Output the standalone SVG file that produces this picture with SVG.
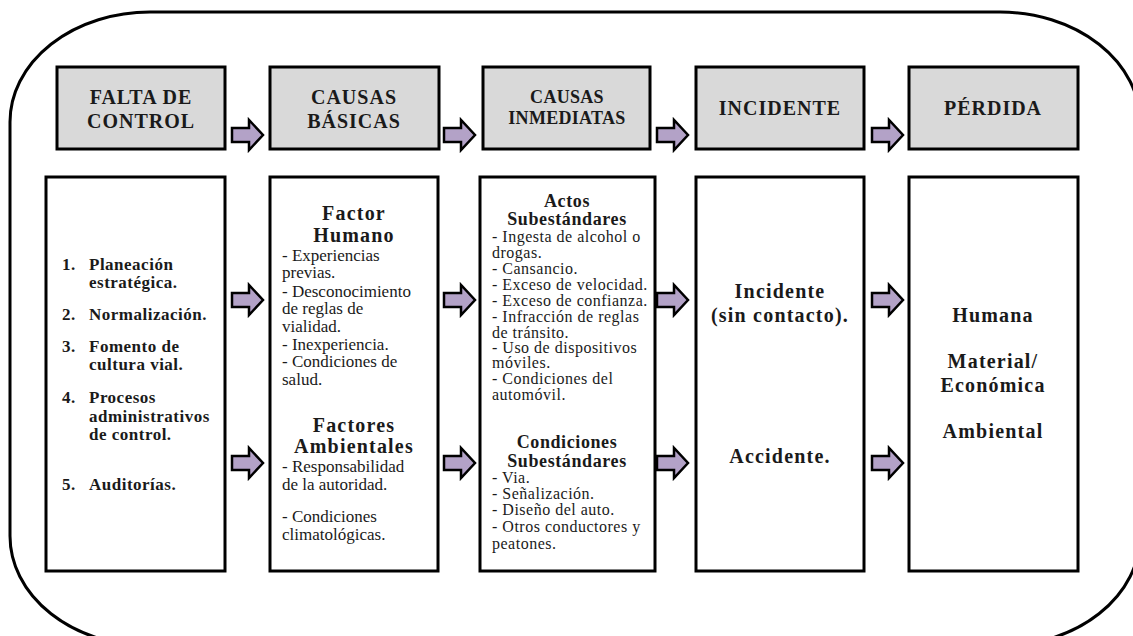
<svg xmlns="http://www.w3.org/2000/svg" xmlns:xlink="http://www.w3.org/1999/xlink" width="1133" height="636" viewBox="0 0 1133 636">
<style>
text{font-family:"Liberation Serif","Times New Roman","DejaVu Serif",serif;fill:#1a1a1a}
.hdr{fill:#d9d9d9;stroke:#000;stroke-width:3}
.box{fill:#fff;stroke:#000;stroke-width:3}
.ht{font-weight:bold;font-size:20px;letter-spacing:1px;text-anchor:middle}
.hs{font-weight:bold;font-size:18px;letter-spacing:0.3px;text-anchor:middle}
.li{font-weight:bold;font-size:17px;letter-spacing:0.5px}
.sub{font-weight:bold;font-size:20px;letter-spacing:1.2px;text-anchor:middle}
.sub3{font-weight:bold;font-size:18px;letter-spacing:0.6px;text-anchor:middle}
.b2{font-size:17px}
.b3{font-size:16px;letter-spacing:0.5px}
.big{font-weight:bold;font-size:20px;letter-spacing:1.2px;text-anchor:middle}
.arr{fill:#b3a2c7;stroke:#000;stroke-width:2.5;stroke-linejoin:miter}
</style>
<defs>
<path id="arr" class="arr" d="M0,-7 H17 V-15 L31,0 L17,15 V7 H0 Z"/>
</defs>
<rect x="0" y="0" width="1133" height="636" fill="#fff"/>
<rect id="frame" x="10" y="12" width="1130" height="634" rx="140" ry="110" fill="none" stroke="#000" stroke-width="3"/>

<g id="h1"><rect class="hdr" x="57" y="67" width="168" height="82"/><text class="ht" x="141" y="104">FALTA DE</text><text class="ht" x="141" y="128">CONTROL</text></g>
<g id="h2"><rect class="hdr" x="270" y="67" width="169" height="82"/><text class="ht" x="354" y="104">CAUSAS</text><text class="ht" x="354" y="128">BÁSICAS</text></g>
<g id="h3"><rect class="hdr" x="483" y="67" width="167" height="82"/><text class="hs" x="567" y="103">CAUSAS</text><text class="hs" x="567" y="124">INMEDIATAS</text></g>
<g id="h4"><rect class="hdr" x="696" y="67" width="168" height="82"/><text class="ht" x="780" y="115">INCIDENTE</text></g>
<g id="h5"><rect class="hdr" x="909" y="67" width="169" height="82"/><text class="ht" x="993" y="115">PÉRDIDA</text></g>

<g id="b1"><rect class="box" x="46" y="177" width="179" height="394"/>
<text class="li"><tspan x="62" y="270">1.</tspan><tspan x="89" y="270">Planeación</tspan><tspan x="89" y="288">estratégica.</tspan>
<tspan x="62" y="320">2.</tspan><tspan x="89" y="320">Normalización.</tspan>
<tspan x="62" y="352">3.</tspan><tspan x="89" y="352">Fomento de</tspan><tspan x="89" y="370">cultura vial.</tspan>
<tspan x="62" y="403">4.</tspan><tspan x="89" y="403">Procesos</tspan><tspan x="89" y="422">administrativos</tspan><tspan x="89" y="440">de control.</tspan>
<tspan x="62" y="490">5.</tspan><tspan x="89" y="490">Auditorías.</tspan></text></g>

<g id="b2"><rect class="box" x="270" y="177" width="168" height="394"/>
<text class="sub" x="354" y="220">Factor</text><text class="sub" x="354" y="242">Humano</text>
<text class="b2"><tspan x="282" y="261">- Experiencias</tspan><tspan x="282" y="278">previas.</tspan><tspan x="282" y="297">- Desconocimiento</tspan><tspan x="282" y="314">de reglas de</tspan><tspan x="282" y="332">vialidad.</tspan><tspan x="282" y="350">- Inexperiencia.</tspan><tspan x="282" y="367">- Condiciones de</tspan><tspan x="282" y="385">salud.</tspan></text>
<text class="sub" x="354" y="432">Factores</text><text class="sub" x="354" y="453">Ambientales</text>
<text class="b2"><tspan x="282" y="472">- Responsabilidad</tspan><tspan x="282" y="490">de la autoridad.</tspan><tspan x="282" y="522">- Condiciones</tspan><tspan x="282" y="540">climatológicas.</tspan></text></g>

<g id="b3"><rect class="box" x="480" y="177" width="175" height="394"/>
<text class="sub3" x="567" y="207">Actos</text><text class="sub3" x="567" y="225">Subestándares</text>
<text class="b3"><tspan x="492" y="242">- Ingesta de alcohol o</tspan><tspan x="492" y="258">drogas.</tspan><tspan x="492" y="274">- Cansancio.</tspan><tspan x="492" y="290">- Exceso  de velocidad.</tspan><tspan x="492" y="306">- Exceso  de confianza.</tspan><tspan x="492" y="322">- Infracción de reglas</tspan><tspan x="492" y="338">de tránsito.</tspan><tspan x="492" y="353">- Uso de dispositivos</tspan><tspan x="492" y="368">móviles.</tspan><tspan x="492" y="384">- Condiciones del</tspan><tspan x="492" y="400">automóvil.</tspan></text>
<text class="sub3" x="567" y="448">Condiciones</text><text class="sub3" x="567" y="467">Subestándares</text>
<text class="b3"><tspan x="492" y="483">- Via.</tspan><tspan x="492" y="499">- Señalización.</tspan><tspan x="492" y="515">- Diseño del auto.</tspan><tspan x="492" y="532">- Otros conductores y</tspan><tspan x="492" y="549">peatones.</tspan></text></g>

<g id="b4"><rect class="box" x="696" y="177" width="168" height="394"/>
<text class="big" x="780" y="298">Incidente</text><text class="big" x="780" y="322">(sin contacto).</text>
<text class="big" x="780" y="463">Accidente.</text></g>

<g id="b5"><rect class="box" x="909" y="177" width="169" height="394"/>
<text class="big" x="993" y="322">Humana</text><text class="big" x="993" y="368">Material/</text><text class="big" x="993" y="392">Económica</text><text class="big" x="993" y="438">Ambiental</text></g>

<g id="connectors">
<use xlink:href="#arr" x="232" y="135"/><use xlink:href="#arr" x="444" y="135"/><use xlink:href="#arr" x="657" y="135"/><use xlink:href="#arr" x="872" y="135"/>
<use xlink:href="#arr" x="232" y="300"/><use xlink:href="#arr" x="444" y="300"/><use xlink:href="#arr" x="657" y="300"/><use xlink:href="#arr" x="872" y="300"/>
<use xlink:href="#arr" x="232" y="463"/><use xlink:href="#arr" x="444" y="463"/><use xlink:href="#arr" x="657" y="463"/><use xlink:href="#arr" x="872" y="463"/>
</g>
</svg>
